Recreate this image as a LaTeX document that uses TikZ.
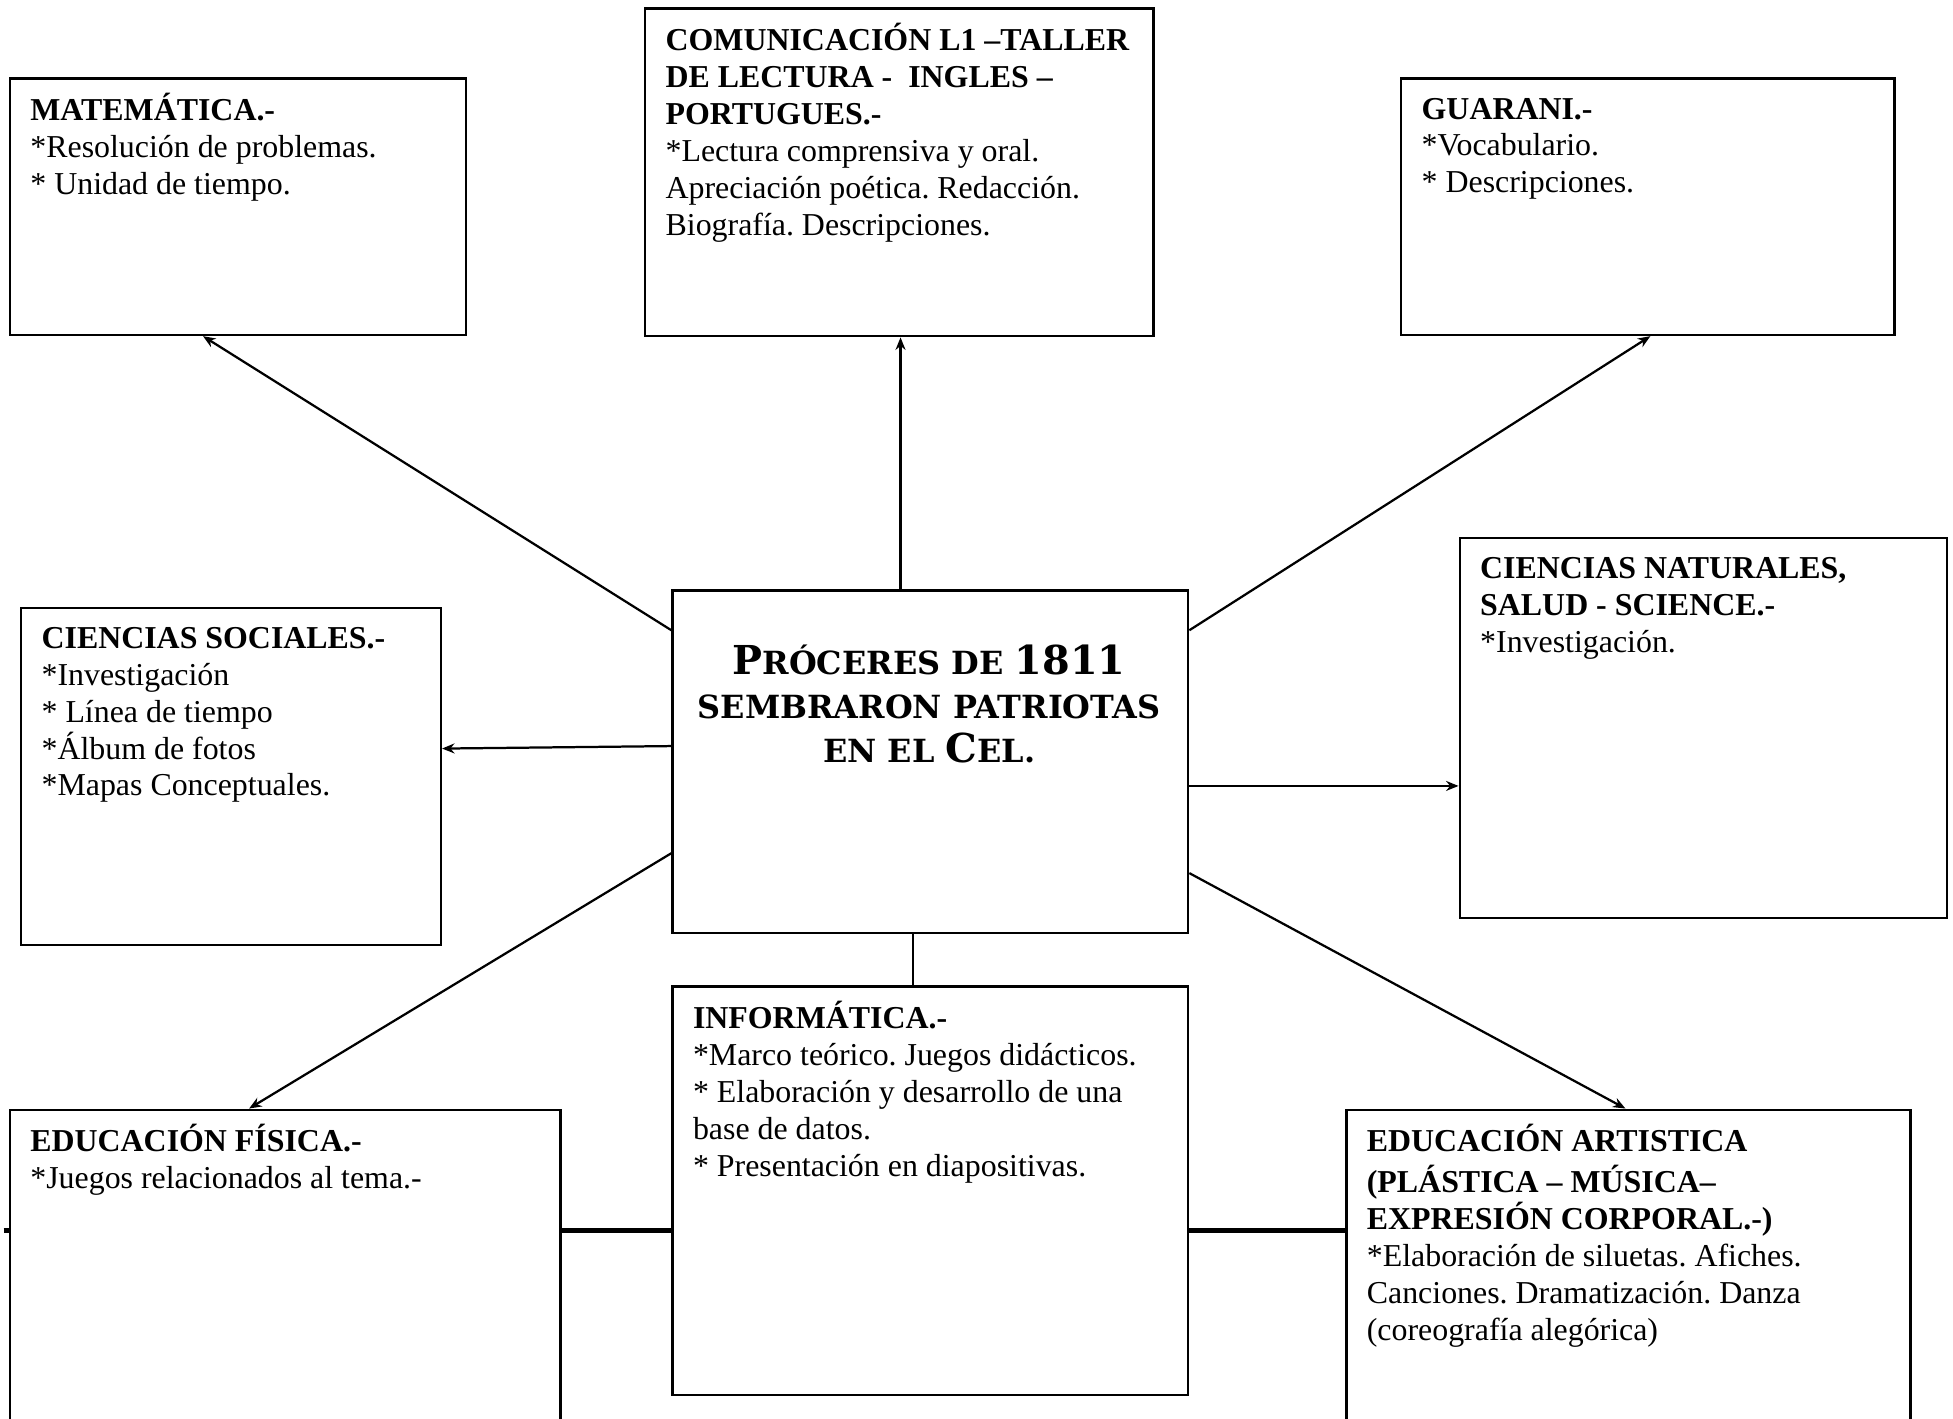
\documentclass[tikz,border=0pt]{standalone}
\usepackage{fontspec}
\setmainfont{Liberation Serif}
\newfontfamily\cpfont{DejaVu Serif}
\usetikzlibrary{arrows.meta,backgrounds}
\frenchspacing
\tikzset{
  boxst/.style={draw, line width=0.95pt, fill=white, rectangle, inner sep=0pt, anchor=north west},
  txt/.style={anchor=north west, align=left, inner sep=0pt, font=\fontsize{12.8}{14.8}\selectfont},
  arr/.style={line width=0.9pt, -{Stealth[length=5pt,width=4pt]}},
  ln/.style={line width=0.9pt},
  thk/.style={line width=1.8pt},
}
\newcommand\mkbox[6]{%
  \node[boxst, minimum width=#4*0.5pt, minimum height=#5*0.5pt] (#1) at (#2,#3) {};
  \node[txt] (#1t) at (#2+17,#3+12.5) {\strut#6};
}
\newcommand\bgc[1]{{\fontsize{16}{17.75}\selectfont #1}}
\begin{document}
\begin{tikzpicture}[x=0.5pt,y=-0.5pt]
\clip (0,0) rectangle (1568,1139);
\mkbox{mat}{7}{62}{366}{206}{\textbf{MATEMÁTICA.-}\\{}*Resolución de problemas.\\{}* Unidad de tiempo.}
\mkbox{com}{517}{6}{408}{263}{\textbf{COMUNICACIÓN L1 –TALLER}\\\textbf{DE LECTURA -\ \ INGLES –}\\\textbf{PORTUGUES.-}\\{}*Lectura comprensiva y oral.\\Apreciación poética. Redacción.\\Biografía. Descripciones.}
\mkbox{gua}{1124}{62}{396}{206}{\textbf{GUARANI.-}\\{}*Vocabulario.\\{}* Descripciones.}
\mkbox{csoc}{16}{487}{337}{271}{\textbf{CIENCIAS SOCIALES.-}\\{}*Investigación\\{}* Línea de tiempo\\{}*Álbum de fotos\\{}*Mapas Conceptuales.}
\mkbox{cnat}{1171}{431}{391}{305}{\textbf{CIENCIAS NATURALES,}\\\textbf{SALUD - SCIENCE.-}\\{}*Investigación.}
\mkbox{inf}{539}{791}{414}{328}{\textbf{INFORMÁTICA.-}\\{}*Marco teórico. Juegos didácticos.\\{}* Elaboración y desarrollo de una\\base de datos.\\{}* Presentación en diapositivas.}
\mkbox{edf}{7}{890}{442}{300}{\textbf{EDUCACIÓN FÍSICA.-}\\{}*Juegos relacionados al tema.-}
\mkbox{eda}{1080}{890}{453}{300}{\textbf{EDUCACIÓN ARTISTICA}\\\textbf{(PLÁSTICA – MÚSICA–}\\\textbf{EXPRESIÓN CORPORAL.-)}\\{}*Elaboración de siluetas. Afiches.\\Canciones. Dramatización. Danza\\(coreografía alegórica)}
\node[boxst, minimum width=207pt, minimum height=137.5pt] (ctr) at (539,473) {};
\node[anchor=north, align=center, inner sep=0pt, font=\cpfont\bfseries\fontsize{12.8}{17.75}\selectfont] (ctrt) at (746,516)
  {\strut\bgc{P}RÓCERES DE \bgc{1811}\\SEMBRARON PATRIOTAS\\EN EL \bgc{C}EL.};
% connectors
\draw[arr] ([xshift=92pt]ctr.north west) -- ([xshift=92pt]ctr.north west |- com.south);
\draw[arr] ([yshift=-16.5pt]ctr.north west) -- ([xshift=78pt]mat.south west);
\draw[arr] ([yshift=-16.5pt]ctr.north east) -- ([xshift=100.5pt]gua.south west);
\draw[arr] ([yshift=-63pt]ctr.north west) -- ([yshift=-57pt]csoc.north east);
\coordinate (c5) at ([yshift=-79pt]ctr.north east);
\draw[arr] (c5) -- (c5 -| cnat.west);
\draw[arr] ([yshift=-106pt]ctr.north west) -- ([xshift=96.5pt]edf.north west);
\draw[arr] ([yshift=-114pt]ctr.north east) -- ([xshift=112.5pt]eda.north west);
\draw[ln] ([xshift=97pt]ctr.south west) -- ([xshift=97pt]inf.north west);
\begin{pgfonlayer}{background}
\fill[white] (0,0) rectangle (1568,1139);
\coordinate (stub) at (3,988);
\draw[thk] (stub) -- (stub -| inf.west);
\draw[thk] (stub -| inf.east) -- (stub -| eda.west);
\end{pgfonlayer}
\end{tikzpicture}
\end{document}
